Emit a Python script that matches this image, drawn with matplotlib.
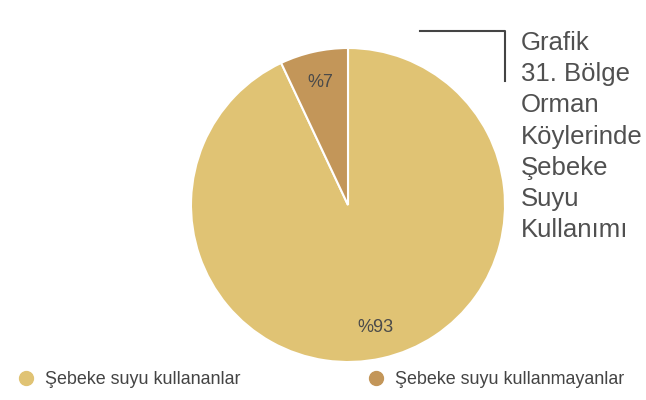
import matplotlib.pyplot as plt
from matplotlib.lines import Line2D

plt.rcParams['font.family'] = ['Liberation Sans', 'DejaVu Sans']

# data
categories = ["Şebeke suyu kullananlar", "Şebeke suyu kullanmayanlar"]
values = [93, 7]
colors = ["#E0C374", "#C39659"]
title_lines = ["Grafik", "31. Bölge", "Orman", "Köylerinde", "Şebeke", "Suyu", "Kullanımı"]

fig = plt.figure(figsize=(6.46, 4.0), dpi=100)
ax = fig.add_axes([191 / 646, 38 / 400, 314 / 646, 314 / 400])

wedges, texts, autotexts = ax.pie(
    values, colors=colors, startangle=90, counterclock=False,
    autopct=lambda p: "%" + str(int(round(p))), pctdistance=0.8,
    wedgeprops=dict(edgecolor="white", linewidth=1.5),
    textprops=dict(color="#4a4a4a", fontsize=13),
)
ax.set_xlim(-1.0, 1.0)
ax.set_ylim(-1.0, 1.0)
ax.set_aspect("equal")
ax.axis("off")

# bracket next to the title
fig.add_artist(Line2D([420 / 646, 505 / 646, 505 / 646],
                      [1 - 31 / 400, 1 - 31 / 400, 1 - 81 / 400],
                      transform=fig.transFigure, color="#444444", lw=1.5))

fig.text(521 / 646, 1 - 31 / 400, "\n".join(title_lines), va="top", ha="left",
         fontsize=18.5, color="#505050", linespacing=1.38)

# legend drawn by hand
leg_x = [26, 376]
for x, label, c in zip(leg_x, categories, colors):
    fig.add_artist(Line2D([x / 646], [1 - 378 / 400], transform=fig.transFigure,
                          marker="o", markersize=10, color=c, lw=0))
    fig.text((x + 19) / 646, 1 - 379 / 400, label, va="center", ha="left",
             fontsize=12.9, color="#444444")

fig.savefig("out.png", dpi=100)
